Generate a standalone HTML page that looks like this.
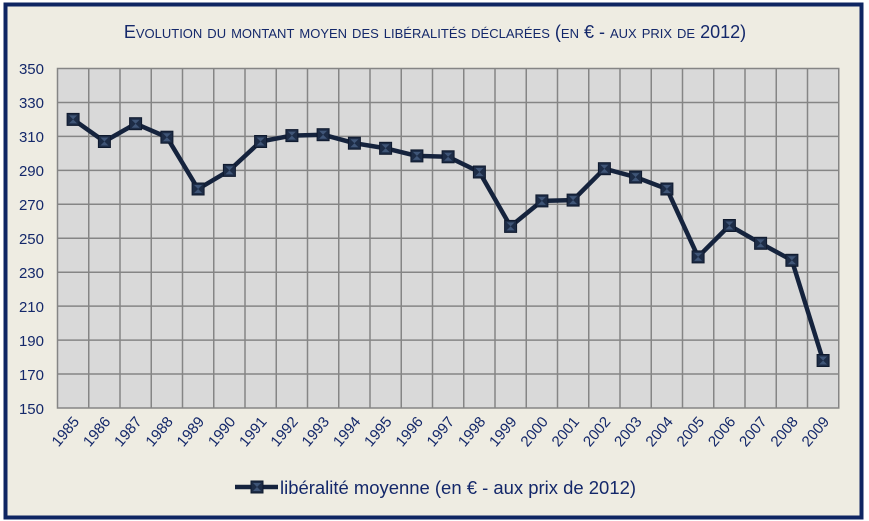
<!DOCTYPE html>
<html><head><meta charset="utf-8"><style>
html,body{margin:0;padding:0;background:#fff;}
svg{display:block;font-family:"Liberation Sans",sans-serif;}
</style></head><body>
<svg width="869" height="521" viewBox="0 0 869 521" xmlns="http://www.w3.org/2000/svg">
<rect x="5.5" y="4.5" width="856" height="513" fill="#eeece2" stroke="#0e2562" stroke-width="4"/>
<text x="435" y="38" text-anchor="middle" fill="#14286a" font-size="18" style="font-variant:small-caps">Evolution du montant moyen des libéralités déclarées (en € - aux prix de 2012)</text>
<rect x="57.5" y="68.5" width="781.25" height="339.5" fill="#d9d9d9" stroke="#858585" stroke-width="1.5"/>
<g stroke="#858585" stroke-width="1.5">
<path d="M57.5 102.45H838.75M57.5 136.4H838.75M57.5 170.35H838.75M57.5 204.3H838.75M57.5 238.25H838.75M57.5 272.2H838.75M57.5 306.15H838.75M57.5 340.1H838.75M57.5 374.05H838.75"/>
<path d="M88.75 68.5V408M120 68.5V408M151.25 68.5V408M182.5 68.5V408M213.75 68.5V408M245 68.5V408M276.25 68.5V408M307.5 68.5V408M338.75 68.5V408M370 68.5V408M401.25 68.5V408M432.5 68.5V408M463.75 68.5V408M495 68.5V408M526.25 68.5V408M557.5 68.5V408M588.75 68.5V408M620 68.5V408M651.25 68.5V408M682.5 68.5V408M713.75 68.5V408M745 68.5V408M776.25 68.5V408M807.5 68.5V408"/>
</g>
<g fill="#14286a" font-size="15" text-anchor="end">
<text x="44" y="74">350</text><text x="44" y="108">330</text><text x="44" y="142">310</text><text x="44" y="176">290</text><text x="44" y="210">270</text><text x="44" y="244">250</text><text x="44" y="278">230</text><text x="44" y="312">210</text><text x="44" y="346">190</text><text x="44" y="380">170</text><text x="44" y="414">150</text>
</g>
<g fill="#14286a" font-size="15" text-anchor="end">
<text transform="translate(80,422) rotate(-50)">1985</text>
<text transform="translate(111.3,422) rotate(-50)">1986</text>
<text transform="translate(142.5,422) rotate(-50)">1987</text>
<text transform="translate(173.8,422) rotate(-50)">1988</text>
<text transform="translate(205,422) rotate(-50)">1989</text>
<text transform="translate(236.3,422) rotate(-50)">1990</text>
<text transform="translate(267.5,422) rotate(-50)">1991</text>
<text transform="translate(298.8,422) rotate(-50)">1992</text>
<text transform="translate(330,422) rotate(-50)">1993</text>
<text transform="translate(361.3,422) rotate(-50)">1994</text>
<text transform="translate(392.5,422) rotate(-50)">1995</text>
<text transform="translate(423.8,422) rotate(-50)">1996</text>
<text transform="translate(455,422) rotate(-50)">1997</text>
<text transform="translate(486.3,422) rotate(-50)">1998</text>
<text transform="translate(517.5,422) rotate(-50)">1999</text>
<text transform="translate(548.8,422) rotate(-50)">2000</text>
<text transform="translate(580,422) rotate(-50)">2001</text>
<text transform="translate(611.3,422) rotate(-50)">2002</text>
<text transform="translate(642.5,422) rotate(-50)">2003</text>
<text transform="translate(673.8,422) rotate(-50)">2004</text>
<text transform="translate(705,422) rotate(-50)">2005</text>
<text transform="translate(736.3,422) rotate(-50)">2006</text>
<text transform="translate(767.5,422) rotate(-50)">2007</text>
<text transform="translate(798.8,422) rotate(-50)">2008</text>
<text transform="translate(830,422) rotate(-50)">2009</text>
</g>
<defs>
<g id="m"><rect x="-6" y="-6" width="12" height="12" fill="#1d2c46" stroke="#0f1a2e" stroke-width="1"/><path d="M-4 -4H4L0 0Z" fill="#3f5577"/><path d="M-4 4H4L0 0Z" fill="#3f5577"/></g>
</defs>
<polyline fill="none" stroke="#15233d" stroke-width="4.5" stroke-linejoin="round" points="73.1,119.4 104.4,141.5 135.6,123.7 166.9,137.2 198.1,189 229.4,170.4 260.6,141.5 291.9,135.6 323.1,134.7 354.4,143.2 385.6,148.3 416.9,155.9 448.1,156.8 479.4,172 510.6,226.4 541.9,200.9 573.1,200.1 604.4,168.7 635.6,177.1 666.9,189 698.1,256.9 729.4,225.5 760.6,243.3 791.9,260.3 823.1,360.5"/>
<use href="#m" x="73.1" y="119.4"/><use href="#m" x="104.4" y="141.5"/><use href="#m" x="135.6" y="123.7"/><use href="#m" x="166.9" y="137.2"/><use href="#m" x="198.1" y="189"/><use href="#m" x="229.4" y="170.4"/><use href="#m" x="260.6" y="141.5"/><use href="#m" x="291.9" y="135.6"/><use href="#m" x="323.1" y="134.7"/><use href="#m" x="354.4" y="143.2"/><use href="#m" x="385.6" y="148.3"/><use href="#m" x="416.9" y="155.9"/><use href="#m" x="448.1" y="156.8"/><use href="#m" x="479.4" y="172"/><use href="#m" x="510.6" y="226.4"/><use href="#m" x="541.9" y="200.9"/><use href="#m" x="573.1" y="200.1"/><use href="#m" x="604.4" y="168.7"/><use href="#m" x="635.6" y="177.1"/><use href="#m" x="666.9" y="189"/><use href="#m" x="698.1" y="256.9"/><use href="#m" x="729.4" y="225.5"/><use href="#m" x="760.6" y="243.3"/><use href="#m" x="791.9" y="260.3"/><use href="#m" x="823.1" y="360.5"/>
<line x1="235" y1="487" x2="278" y2="487" stroke="#15233d" stroke-width="4.5"/>
<use href="#m" x="257" y="487"/>
<text x="280" y="494" fill="#14286a" font-size="18" textLength="356" lengthAdjust="spacingAndGlyphs">libéralité moyenne (en € - aux prix de 2012)</text>
</svg>
</body></html>
